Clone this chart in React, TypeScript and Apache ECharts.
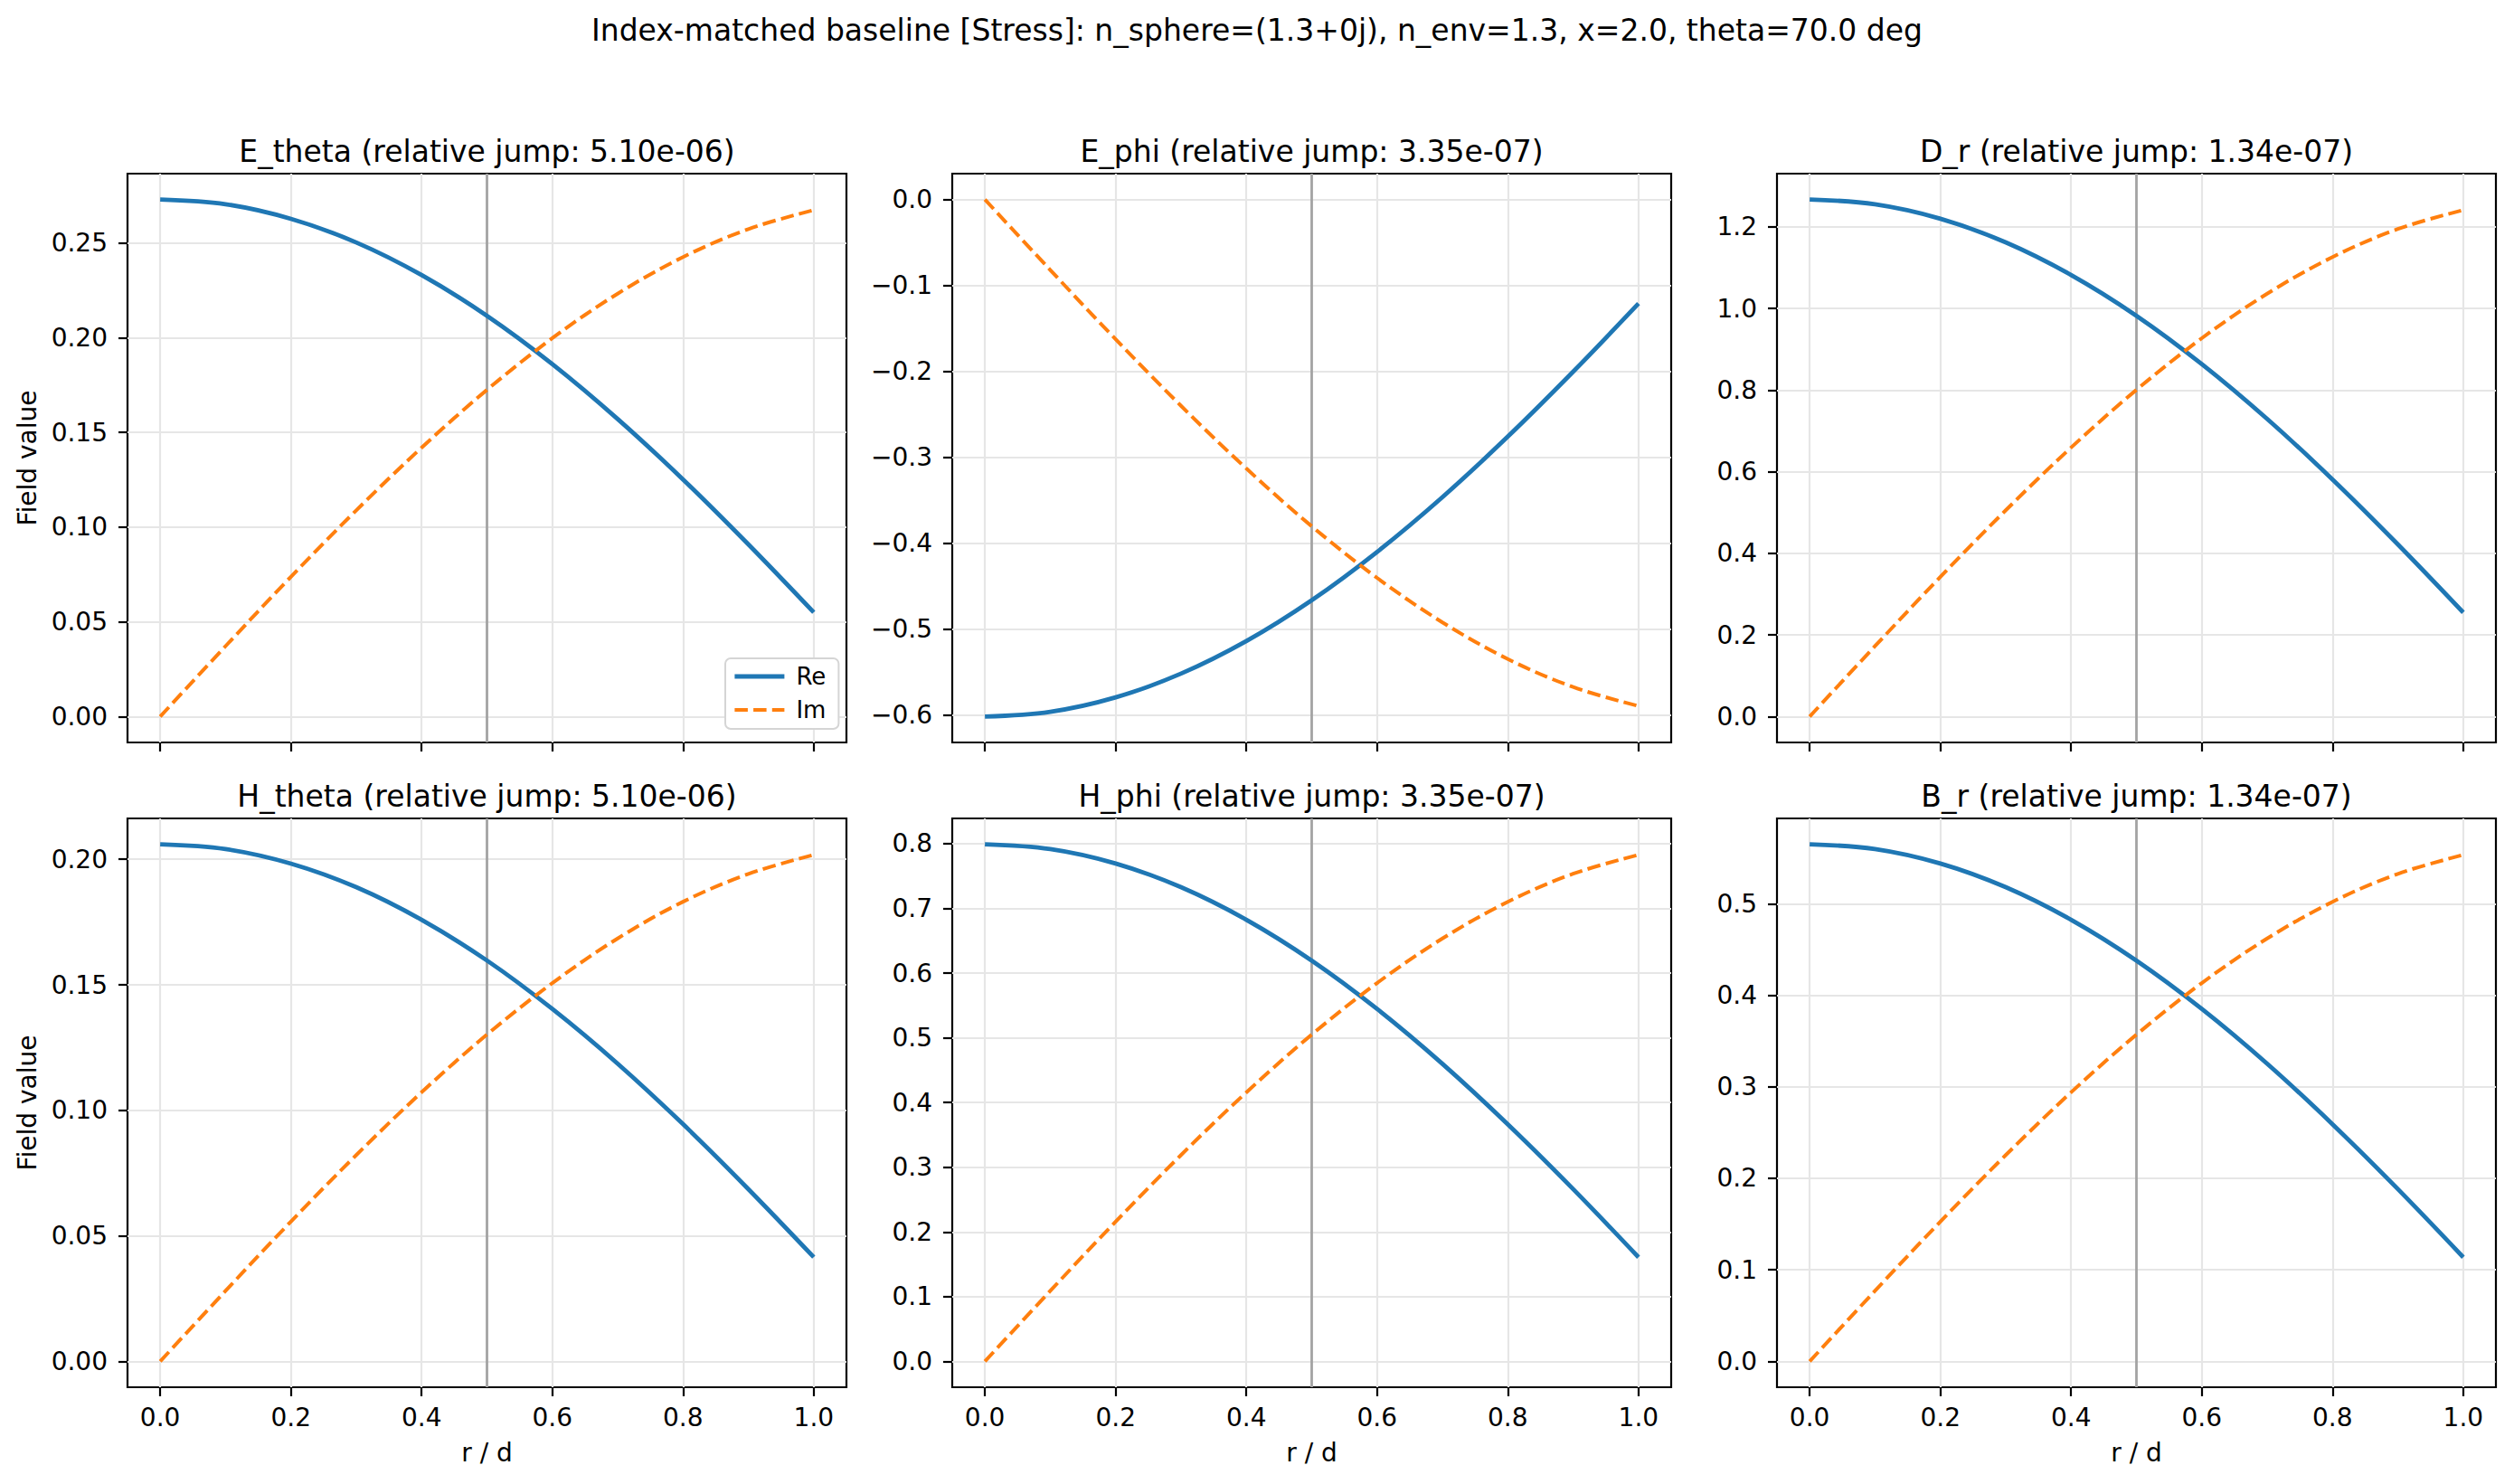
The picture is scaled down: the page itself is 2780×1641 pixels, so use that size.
import React, { useEffect, useRef } from "react";
import * as echarts from "echarts";

// ---------- data ----------
const rValues = [0, 0.1, 0.2, 0.3, 0.4, 0.5, 0.6, 0.7, 0.8, 0.9, 1.0];

const eThetaRe = [0.273, 0.2705, 0.2628, 0.2503, 0.2331, 0.2116, 0.1861, 0.1571, 0.1252, 0.0909, 0.055];
const eThetaIm = [0, 0.0372, 0.0738, 0.1089, 0.142, 0.1725, 0.1998, 0.2233, 0.2426, 0.2574, 0.2674];

const ePhiRe = [-0.602, -0.5964, -0.5796, -0.552, -0.5141, -0.4666, -0.4103, -0.3465, -0.2761, -0.2005, -0.1212];
const ePhiIm = [0, -0.0821, -0.1627, -0.2402, -0.3132, -0.3804, -0.4405, -0.4923, -0.535, -0.5676, -0.5897];

const dRRe = [1.267, 1.2552, 1.2199, 1.1618, 1.082, 0.9821, 0.8636, 0.7292, 0.5811, 0.422, 0.2552];
const dRIm = [0, 0.1728, 0.3423, 0.5055, 0.6592, 0.8006, 0.9271, 1.0362, 1.126, 1.1947, 1.241];

const hThetaRe = [0.206, 0.2041, 0.1983, 0.1889, 0.1759, 0.1597, 0.1404, 0.1186, 0.0945, 0.0686, 0.0415];
const hThetaIm = [0, 0.0281, 0.0557, 0.0822, 0.1072, 0.1302, 0.1507, 0.1685, 0.1831, 0.1942, 0.2018];

const hPhiRe = [0.799, 0.7916, 0.7693, 0.7327, 0.6824, 0.6193, 0.5446, 0.4598, 0.3664, 0.2662, 0.1609];
const hPhiIm = [0, 0.109, 0.2159, 0.3188, 0.4157, 0.5049, 0.5846, 0.6534, 0.7101, 0.7534, 0.7826];

const bRRe = [0.565, 0.5598, 0.544, 0.5181, 0.4825, 0.4379, 0.3851, 0.3252, 0.2591, 0.1882, 0.1138];
const bRIm = [0, 0.0771, 0.1527, 0.2254, 0.294, 0.357, 0.4134, 0.4621, 0.5021, 0.5327, 0.5534];

const xTicks = [0, 0.2, 0.4, 0.6, 0.8, 1.0];
const eThetaTicks = [0, 0.05, 0.1, 0.15, 0.2, 0.25];
const ePhiTicks = [-0.6, -0.5, -0.4, -0.3, -0.2, -0.1, 0];
const dRTicks = [0, 0.2, 0.4, 0.6, 0.8, 1.0, 1.2];
const hThetaTicks = [0, 0.05, 0.1, 0.15, 0.2];
const hPhiTicks = [0, 0.1, 0.2, 0.3, 0.4, 0.5, 0.6, 0.7, 0.8];
const bRTicks = [0, 0.1, 0.2, 0.3, 0.4, 0.5];

const panelTitles = [
  "E_theta (relative jump: 5.10e-06)",
  "E_phi (relative jump: 3.35e-07)",
  "D_r (relative jump: 1.34e-07)",
  "H_theta (relative jump: 5.10e-06)",
  "H_phi (relative jump: 3.35e-07)",
  "B_r (relative jump: 1.34e-07)",
];
const supTitle =
  "Index-matched baseline [Stress]: n_sphere=(1.3+0j), n_env=1.3, x=2.0, theta=70.0 deg";
const seriesNames = ["Re", "Im"];
const interfaceR = 0.5;
const xLabel = "r / d";
const yLabel = "Field value";

// ---------- layout / style ----------
const W = 2780;
const H = 1641;
const FONT = "DejaVu Sans";
const colLefts = [141, 1053, 1965];
const rowTops = [192, 905];
const gridW = 795;
const gridH = 629;
const RE_COLOR = "#1f77b4";
const IM_COLOR = "#ff7f0e";
const RE_STYLE = { color: RE_COLOR, width: 4.8, type: "solid" as any };
const IM_STYLE = { color: IM_COLOR, width: 4.0, type: [14.5, 6.2] as any };

const panels = [
  { re: eThetaRe, im: eThetaIm, ticks: eThetaTicks, dec: 2 },
  { re: ePhiRe, im: ePhiIm, ticks: ePhiTicks, dec: 1 },
  { re: dRRe, im: dRIm, ticks: dRTicks, dec: 1 },
  { re: hThetaRe, im: hThetaIm, ticks: hThetaTicks, dec: 2 },
  { re: hPhiRe, im: hPhiIm, ticks: hPhiTicks, dec: 1 },
  { re: bRRe, im: bRIm, ticks: bRTicks, dec: 1 },
];

const fmt = (v: number, d: number) => {
  const s = Math.abs(v) < 1e-12 ? (0).toFixed(d) : v.toFixed(d);
  return s.replace("-", "\u2212");
};

function buildOption() {
  const grids: any[] = [];
  const xAxes: any[] = [];
  const yAxes: any[] = [];
  const series: any[] = [];
  const graphics: any[] = [];

  graphics.push({
    type: "text",
    x: W / 2,
    y: 33,
    style: {
      text: supTitle,
      fontSize: 33,
      fontFamily: FONT,
      fill: "#000",
      align: "center",
      verticalAlign: "middle",
      textAlign: "center",
      textVerticalAlign: "middle",
    },
  });

  panels.forEach((p, i) => {
    const col = i % 3;
    const row = Math.floor(i / 3);
    const left = colLefts[col];
    const top = rowTops[row];
    grids.push({
      left,
      top,
      width: gridW,
      height: gridH,
      show: true,
      borderColor: "#000",
      borderWidth: 2.2,
      backgroundColor: "rgba(0,0,0,0)",
      containLabel: false,
    });

    const xMin = Math.min(...rValues);
    const xMax = Math.max(...rValues);
    const xPad = 0.05 * (xMax - xMin);
    const all = [...p.re, ...p.im];
    const yMinD = Math.min(...all);
    const yMaxD = Math.max(...all);
    const yPad = 0.05 * (yMaxD - yMinD);

    xAxes.push({
      type: "value",
      gridIndex: i,
      position: "bottom",
      min: xMin - xPad,
      max: xMax + xPad,
      axisLine: { show: false, onZero: false },
      axisTick: {
        show: true,
        length: 10,
        inside: false,
        customValues: xTicks,
        lineStyle: { color: "#000", width: 2.2 },
      },
      axisLabel: {
        show: row === 1,
        customValues: xTicks,
        formatter: (v: number) => fmt(v, 1),
        fontSize: 28,
        fontFamily: FONT,
        color: "#000",
        margin: 19,
      },
      splitLine: { show: true, lineStyle: { color: "#e6e6e6", width: 2.2 } },
      name: row === 1 ? xLabel : "",
      nameLocation: "middle",
      nameGap: 58,
      nameMoveOverlap: false,
      nameTextStyle: { fontSize: 28, fontFamily: FONT, color: "#000" },
    });

    yAxes.push({
      type: "value",
      gridIndex: i,
      position: "left",
      min: yMinD - yPad,
      max: yMaxD + yPad,
      axisLine: { show: false, onZero: false },
      axisTick: {
        show: true,
        length: 10,
        inside: false,
        customValues: p.ticks,
        lineStyle: { color: "#000", width: 2.2 },
      },
      axisLabel: {
        show: true,
        customValues: p.ticks,
        formatter: (v: number) => fmt(v, p.dec),
        fontSize: 28,
        fontFamily: FONT,
        color: "#000",
        margin: 22,
      },
      splitLine: { show: true, lineStyle: { color: "#e6e6e6", width: 2.2 } },
      name: col === 0 ? yLabel : "",
      nameLocation: "middle",
      nameRotate: 90,
      nameGap: 97,
      nameMoveOverlap: false,
      nameTextStyle: { fontSize: 28, fontFamily: FONT, color: "#000" },
    });

    series.push({
      name: seriesNames[0],
      type: "line",
      xAxisIndex: i,
      yAxisIndex: i,
      data: rValues.map((r, k) => [r, p.re[k]]),
      symbol: "none",
      showSymbol: false,
      smooth: 0.35,
      lineStyle: RE_STYLE,
      itemStyle: { color: RE_COLOR },
      emphasis: { disabled: true },
      z: 3,
      markLine: {
        silent: true,
        symbol: ["none", "none"],
        label: { show: false },
        emphasis: { disabled: true },
        lineStyle: { color: "#a3a3a3", width: 2.8, type: "solid" },
        data: [{ xAxis: interfaceR }],
        z: 2,
      },
    });
    series.push({
      name: seriesNames[1],
      type: "line",
      xAxisIndex: i,
      yAxisIndex: i,
      data: rValues.map((r, k) => [r, p.im[k]]),
      symbol: "none",
      showSymbol: false,
      smooth: 0.35,
      lineStyle: IM_STYLE,
      itemStyle: { color: IM_COLOR },
      emphasis: { disabled: true },
      z: 3,
    });

    graphics.push({
      type: "text",
      x: left + gridW / 2,
      y: top - 25,
      style: {
        text: panelTitles[i],
        fontSize: 33,
        fontFamily: FONT,
        fill: "#000",
        align: "center",
        verticalAlign: "middle",
        textAlign: "center",
        textVerticalAlign: "middle",
      },
    });
  });

  const hiddenSymbol = {
    color: "rgba(0,0,0,0)",
    borderColor: "rgba(0,0,0,0)",
    borderWidth: 0,
    opacity: 0,
  };

  return {
    animation: false,
    backgroundColor: "#ffffff",
    textStyle: { fontFamily: FONT },
    grid: grids,
    xAxis: xAxes,
    yAxis: yAxes,
    series,
    graphic: graphics,
    tooltip: { show: false },
    legend: {
      show: true,
      data: [
        { name: seriesNames[0], itemStyle: hiddenSymbol, lineStyle: RE_STYLE },
        { name: seriesNames[1], itemStyle: hiddenSymbol, lineStyle: IM_STYLE },
      ],
      orient: "vertical",
      left: 802,
      top: 728,
      itemWidth: 55,
      itemHeight: 14,
      itemGap: 11,
      padding: [7, 14, 8, 8],
      backgroundColor: "#ffffff",
      borderColor: "#d5d5d5",
      borderWidth: 2,
      borderRadius: 6,
      selectedMode: false,
      itemStyle: hiddenSymbol,
      textStyle: {
        fontSize: 26,
        lineHeight: 26,
        fontFamily: FONT,
        color: "#000",
        padding: [0, 0, 0, 8],
      },
      z: 10,
    },
  };
}

export default function App() {
  const ref = useRef<HTMLDivElement>(null);
  useEffect(() => {
    document.body.style.margin = "0";
    if (!ref.current) return;
    const chart = echarts.init(ref.current, null, { renderer: "svg", width: W, height: H });
    chart.setOption(buildOption() as any);
    return () => chart.dispose();
  }, []);
  return (
    <div
      ref={ref}
      style={{ position: "absolute", left: 0, top: 0, width: W, height: H, background: "#fff" }}
    />
  );
}
